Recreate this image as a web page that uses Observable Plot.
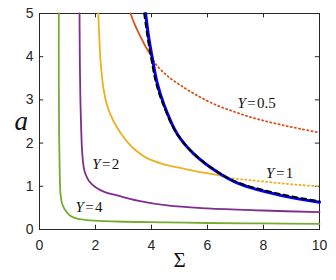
<!DOCTYPE html>
<html><head><meta charset="utf-8">
<script src="https://cdn.jsdelivr.net/npm/d3@7"></script>
<script src="https://cdn.jsdelivr.net/npm/@observablehq/plot@0.6"></script>
<style>body{margin:0;background:#fff}</style>
</head><body><div id="chart"></div>
<script>
// tick labels
const sigmaTicks = [0, 2, 4, 6, 8, 10];
const aTicks = [0, 1, 2, 3, 4, 5];

// Y = 4 (green)
const y4Sigma = [0.69, 0.69, 0.70, 0.72, 0.75, 0.81, 0.93, 1.1, 1.35, 1.82, 2.77, 4.56, 6, 8, 10];
const y4A     = [5, 3.5, 2.2, 1.4, 0.83, 0.59, 0.44, 0.32, 0.25, 0.21, 0.185, 0.165, 0.15, 0.14, 0.13];
// Y = 2 (purple)
const y2Sigma = [1.43, 1.44, 1.46, 1.49, 1.52, 1.58, 1.64, 1.76, 2.0, 2.36, 2.77, 3.5, 4.56, 6, 8, 10];
const y2A     = [5, 4, 3, 2.3, 1.83, 1.44, 1.29, 1.13, 0.98, 0.86, 0.79, 0.67, 0.556, 0.49, 0.44, 0.4];
// Y = 1 (yellow) solid and dotted parts
const y1Sigma = [2.1, 2.14, 2.18, 2.3, 2.45, 2.65, 2.89, 3.19, 3.5, 3.79, 4.38, 5.21, 5.8, 6.46];
const y1A     = [5, 4.4, 3.9, 3.2, 2.8, 2.5, 2.24, 1.99, 1.80, 1.67, 1.52, 1.40, 1.32, 1.25];
const y1DotSigma = [6.46, 6.82, 7.4, 8, 8.6, 9.3, 10];
const y1DotA     = [1.25, 1.19, 1.15, 1.11, 1.07, 1.03, 1.0];
// Y = 0.5 (red) solid and dotted parts
const y05Sigma = [3.25, 3.4, 3.61, 3.8, 4.02];
const y05A     = [5, 4.75, 4.46, 4.22, 4.0];
const y05DotSigma = [4.02, 4.14, 4.56, 5.15, 5.75, 6.35, 6.94, 7.54, 8.13, 8.72, 9.32, 10];
const y05DotA     = [4.0, 3.84, 3.56, 3.29, 3.06, 2.87, 2.73, 2.60, 2.50, 2.41, 2.33, 2.24];
// blue curve and black dashed approximation
const blueSigma = [3.79, 3.9, 4.02, 4.2, 4.44, 4.92, 5.51, 6.35, 7.12, 8.6, 10];
const blueA     = [5, 4.45, 4.0, 3.4, 2.9, 2.21, 1.75, 1.33, 1.06, 0.79, 0.63];
const dashSigma = [3.74, 3.86, 3.98, 4.16, 4.4, 4.88, 5.47, 6.3, 7.08, 8.6, 10];
const dashA     = [5, 4.45, 4.0, 3.4, 2.92, 2.24, 1.78, 1.36, 1.09, 0.82, 0.655];

// curve labels
const labelSigma = [7.37, 8.39, 2.18, 1.58];
const labelA = [2.92, 1.31, 1.52, 0.52];
const labelValues = ["=\u200a0.5", "=\u200a1", "=\u200a2", "=\u200a4"];

const pts = (xs, ys) => xs.map((x, i) => ({x, y: ys[i]}));
const labels = labelSigma.map((x, i) => ({x, y: labelA[i], t: labelValues[i]}));

const axisColor = "#262626";
const serif = "Liberation Serif";
const lw = 1.8;

const chart = Plot.plot({
  width: 336, height: 280,
  marginLeft: 39, marginRight: 17, marginTop: 13, marginBottom: 51,
  x: {domain: [0, 10]},
  y: {domain: [0, 5]},
  style: {fontFamily: "Liberation Sans", background: "#fff", overflow: "visible"},
  marks: [
    Plot.frame({stroke: axisColor, strokeWidth: 1}),
    // inward ticks
    Plot.ruleX(sigmaTicks, {x: d => d, y1: 0, y2: 0.1, stroke: axisColor}),
    Plot.ruleX(sigmaTicks, {x: d => d, y1: 5, y2: 4.9, stroke: axisColor}),
    Plot.ruleY(aTicks, {y: d => d, x1: 0, x2: 0.15, stroke: axisColor}),
    Plot.ruleY(aTicks, {y: d => d, x1: 10, x2: 9.85, stroke: axisColor}),
    Plot.axisX({ticks: sigmaTicks, tickFormat: d3.format("d"), tickSize: 0, tickPadding: 11, fontSize: 14, color: axisColor, label: null}),
    Plot.axisY({ticks: aTicks, tickFormat: d3.format("d"), tickSize: 0, tickPadding: 6, fontSize: 14, color: axisColor, label: null}),
    // curves
    Plot.line(pts(y4Sigma, y4A), {x: "x", y: "y", stroke: "#77ac30", strokeWidth: lw, curve: "catmull-rom"}),
    Plot.line(pts(y2Sigma, y2A), {x: "x", y: "y", stroke: "#7e2f8e", strokeWidth: lw, curve: "catmull-rom"}),
    Plot.line(pts(y1Sigma, y1A), {x: "x", y: "y", stroke: "#edb120", strokeWidth: lw, curve: "catmull-rom"}),
    Plot.line(pts(y1DotSigma, y1DotA), {x: "x", y: "y", stroke: "#edb120", strokeWidth: 1.8, strokeDasharray: "1.2,3", curve: "catmull-rom"}),
    Plot.line(pts(y05Sigma, y05A), {x: "x", y: "y", stroke: "#d95319", strokeWidth: lw, curve: "catmull-rom"}),
    Plot.line(pts(y05DotSigma, y05DotA), {x: "x", y: "y", stroke: "#d95319", strokeWidth: 1.8, strokeDasharray: "1.2,3", curve: "catmull-rom"}),
    Plot.line(pts(blueSigma, blueA), {x: "x", y: "y", stroke: "#0000ff", strokeWidth: 3, curve: "catmull-rom"}),
    Plot.line(pts(dashSigma, dashA), {x: "x", y: "y", stroke: "#000", strokeWidth: 2, strokeDasharray: "5,4", curve: "catmull-rom"}),
    // labels
    Plot.text(labels, {x: "x", y: "y", text: () => "Y", textAnchor: "end", fontFamily: serif, fontStyle: "italic", fontSize: 15, fill: "#111"}),
    Plot.text(labels, {x: "x", y: "y", text: "t", textAnchor: "start", dx: 1.5, fontFamily: serif, fontSize: 15, fill: "#111"}),
    // axis titles
    Plot.text(["Σ"], {frameAnchor: "bottom", dy: 37, fontFamily: serif, fontSize: 21, fill: "#111"}),
    Plot.text(["a"], {frameAnchor: "left", dx: -25, fontFamily: serif, fontStyle: "italic", fontSize: 27, fill: "#111"})
  ]
});
document.getElementById("chart").appendChild(chart);
</script>
</body></html>
